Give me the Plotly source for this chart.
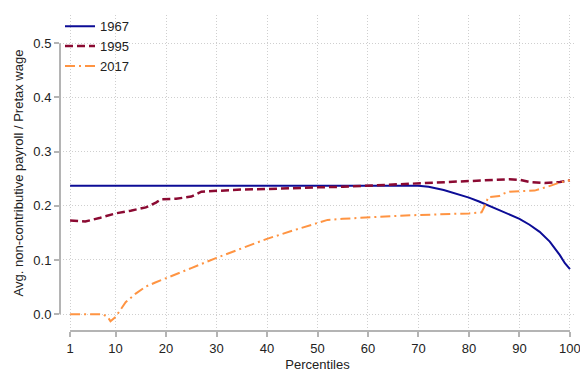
import plotly.graph_objects as go

# ---- data ----
pct_1967 = [1, 10, 20, 30, 40, 50, 60, 70, 72, 75, 80, 82, 86, 90, 92, 94, 96, 97, 98, 99, 100]
val_1967 = [0.237, 0.237, 0.237, 0.237, 0.237, 0.237, 0.237, 0.237, 0.235, 0.229, 0.215, 0.208,
            0.192, 0.176, 0.165, 0.152, 0.134, 0.122, 0.109, 0.094, 0.083]

pct_1995 = [1, 4, 7, 10, 13, 16, 18, 19, 22, 25, 27, 30, 35, 40, 45, 50, 55, 60, 65, 70, 75,
            80, 85, 88, 90, 92, 95, 98, 100]
val_1995 = [0.173, 0.171, 0.178, 0.186, 0.191, 0.197, 0.206, 0.212, 0.213, 0.217, 0.226, 0.228,
            0.230, 0.231, 0.233, 0.234, 0.235, 0.237, 0.239, 0.241, 0.243, 0.245, 0.247, 0.249,
            0.248, 0.244, 0.242, 0.244, 0.247]

pct_2017 = [1, 7.5, 8.5, 9, 10, 12, 14, 16, 18, 20, 25, 30, 35, 40, 45, 50, 52, 55, 60, 65, 70,
            75, 80, 82.5, 83.3, 83.8, 85, 86, 87, 88, 90, 93, 95.5, 98, 100]
val_2017 = [0.0, 0.0, -0.006, -0.013, -0.005, 0.022, 0.038, 0.051, 0.059, 0.066, 0.085, 0.104,
            0.122, 0.139, 0.154, 0.169, 0.174, 0.176, 0.179, 0.181, 0.183, 0.184, 0.186, 0.188,
            0.203, 0.216, 0.217, 0.218, 0.223, 0.226, 0.227, 0.228, 0.235, 0.243, 0.247]

x_ticks = [1, 10, 20, 30, 40, 50, 60, 70, 80, 90, 100]
y_ticks = [0.0, 0.1, 0.2, 0.3, 0.4, 0.5]

FONT = "Liberation Sans Narrow, Arial Narrow, Liberation Sans, Arial, sans-serif"

fig = go.Figure()
fig.add_trace(go.Scatter(x=pct_1967, y=val_1967, mode="lines", name="1967",
                         line=dict(color="#0c0c96", width=2)))
fig.add_trace(go.Scatter(x=pct_1995, y=val_1995, mode="lines", name="1995",
                         line=dict(color="#8b0a32", width=2.5, dash="8px,4px")))
fig.add_trace(go.Scatter(x=pct_2017, y=val_2017, mode="lines", name="2017",
                         line=dict(color="#ff9442", width=2, dash="10px,4px,2px,4px")))

axis_col = "#b4b4b4"
grid_col = "#cfcfcf"

fig.update_layout(
    width=580, height=372,
    margin=dict(l=60, r=5, t=15, b=41),
    paper_bgcolor="white", plot_bgcolor="white",
    font=dict(family=FONT, size=13, color="#222222"),
    showlegend=True,
    legend=dict(x=0.0, y=1.012, xanchor="left", yanchor="top",
                bgcolor="rgba(0,0,0,0)", font=dict(size=13),
                tracegroupgap=0, itemwidth=30),
    xaxis=dict(range=[-1, 101], tickvals=x_ticks, ticktext=[str(v) for v in x_ticks],
               automargin=False, ticklabeloverflow="allow",
               showline=False, zeroline=False,
               showgrid=True, gridcolor=grid_col, griddash="1px,2px", gridwidth=1,
               ticks="outside", ticklen=5, tickcolor=axis_col, tickwidth=1.5,
               title=dict(text="Percentiles", font=dict(size=13), standoff=5)),
    yaxis=dict(range=[-0.031, 0.552], tickvals=y_ticks, tickformat=".1f",
               automargin=False, ticklabeloverflow="allow",
               showline=False, zeroline=False,
               showgrid=True, gridcolor=grid_col, griddash="1px,2px", gridwidth=1,
               ticks="outside", ticklen=5, tickcolor=axis_col, tickwidth=1.5,
               title=dict(text="Avg. non-contributive payroll / Pretax wage",
                          font=dict(size=13), standoff=6)),
)

# Stata-style axis lines spanning first to last tick
fig.add_shape(type="line", xref="paper", yref="y", x0=0, x1=0, y0=y_ticks[0], y1=y_ticks[-1],
              line=dict(color=axis_col, width=2))
fig.add_shape(type="line", xref="x", yref="paper", x0=x_ticks[0], x1=x_ticks[-1], y0=0, y1=0,
              line=dict(color=axis_col, width=2))

fig.write_html("out.html", config={"displayModeBar": False},
               post_script="document.body.style.margin='0';document.body.style.overflow='hidden';")
